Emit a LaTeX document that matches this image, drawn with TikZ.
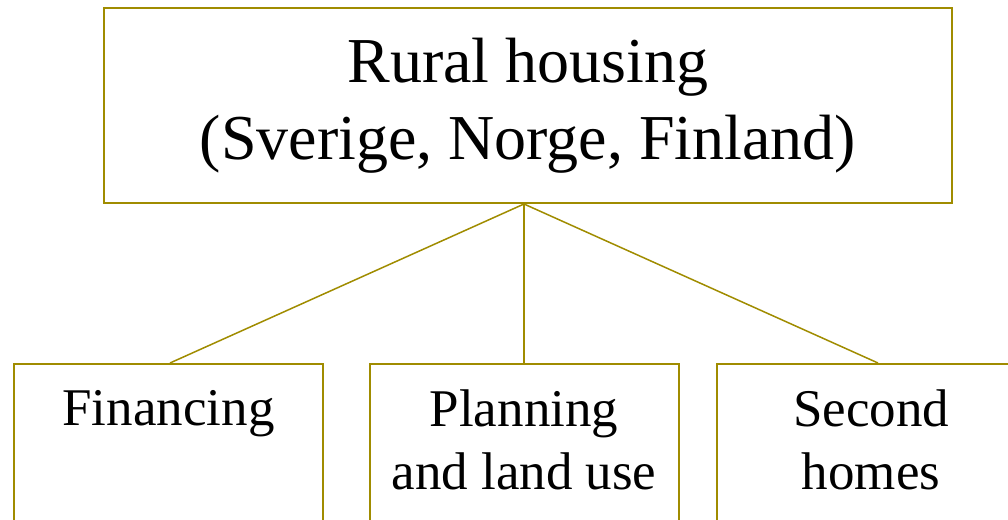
\documentclass[tikz,border=0pt]{standalone}
\usepackage{fontspec}
\setmainfont{Liberation Serif}
\usetikzlibrary{positioning}
\definecolor{olivebox}{RGB}{160,140,0}
\begin{document}
\begin{tikzpicture}[x=1pt,y=-1pt]
    \tikzstyle{every node}+=[inner sep=0pt]
    \tikzstyle{boxed}=[draw=olivebox, line width=2pt]
    \tikzstyle{leaf}=[boxed, minimum width=309pt, minimum height=200pt]
    \tikzstyle{leaftext}=[align=center, font=\fontsize{53}{63}\selectfont]
    \clip (0,0) rectangle (1008,519);
    \useasboundingbox (0,0) rectangle (1008,519);
    % top box
    \node [boxed, minimum width=848pt, minimum height=195pt, align=center,
        font=\fontsize{64}{77}\selectfont] (rural) at (528,105.5)
        {Rural housing\\(Sverige, Norge, Finland)};
    % bottom boxes
    \node [leaf] (fin) at (168.5,464) {};
    \node [leaf] (plan) at (524,464) {};
    \node [leaf] (second) at (871,464) {};
    \node [leaftext, below=27pt of fin.north] (fintext) {Financing};
    \node [leaftext, below=27pt of plan.north] (plantext) {Planning\\and land use};
    \node [leaftext, below=27pt of second.north] (secondtext) {Second\\homes};
    % lines
    \draw [olivebox, line width=1.5pt] ([xshift=-4pt]rural.south) -- ([xshift=1.5pt]fin.north);
    \draw [olivebox, line width=1.5pt] ([xshift=-4pt]rural.south) -- (plan.north);
    \draw [olivebox, line width=1.5pt] ([xshift=-4pt]rural.south) -- ([xshift=7pt]second.north);
\end{tikzpicture}
\end{document}
